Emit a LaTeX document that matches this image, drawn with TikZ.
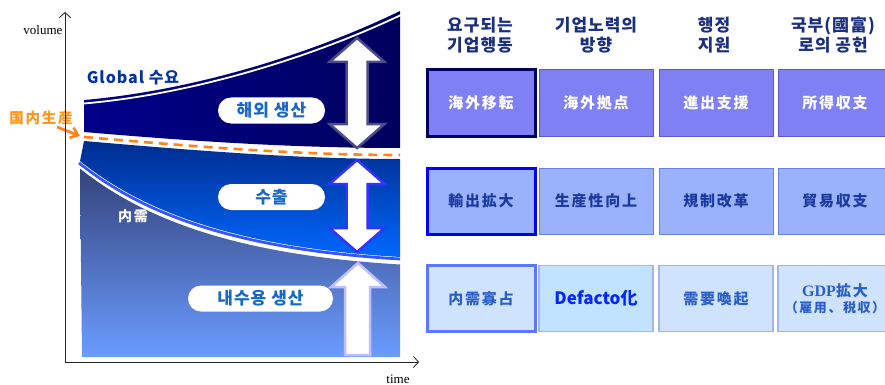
\documentclass[tikz,border=0pt]{standalone}
\usepackage{fontspec}
\setmainfont{Liberation Serif}
\newfontfamily\kr{Noto Sans CJK KR}[LetterSpace=6]
\newfontfamily\jp{Noto Sans CJK JP}[LetterSpace=12]
\newfontfamily\jpn{Noto Sans CJK JP}
\usetikzlibrary{arrows.meta}
\definecolor{navyA}{HTML}{00008A}
\definecolor{navyB}{HTML}{00005E}
\definecolor{midA}{HTML}{002C8E}
\definecolor{midB}{HTML}{0068FF}
\definecolor{lowA}{HTML}{34437C}
\definecolor{lowB}{HTML}{6B9CFF}
\definecolor{pilltext}{HTML}{1868C8}
\definecolor{hdr}{HTML}{1A2F80}
\definecolor{orng}{HTML}{FF8420}
\definecolor{rowA}{HTML}{8080F5}
\definecolor{rowB}{HTML}{99B2FB}
\definecolor{rowC}{HTML}{CFE3FF}
\definecolor{rowCc}{HTML}{C2E3FF}
\definecolor{txtB}{HTML}{1B3AA0}
\definecolor{txtC}{HTML}{2A5FC8}
\definecolor{bordA}{HTML}{5A5ACC}
\definecolor{bordB}{HTML}{6A80DC}
\definecolor{bordC}{HTML}{A4B6E2}
\definecolor{nline}{HTML}{3355FF}
\tikzset{
  pill/.style={rounded corners=13pt, fill=white, minimum height=26pt, inner sep=0pt,
    text=pilltext, font=\kr\bfseries\fontsize{17}{20}\selectfont},
  hdrtext/.style={align=center, text=hdr, font=\kr\bfseries\fontsize{17}{20}\selectfont},
  cellbase/.style={rectangle, minimum width=114pt, minimum height=66pt, inner sep=0pt, align=center},
  cellA/.style={cellbase, fill=rowA, draw=bordA, line width=1pt, text=white,
    font=\jp\bfseries\fontsize{15}{18}\selectfont},
  cellB/.style={cellbase, fill=rowB, draw=bordB, line width=1pt, text=txtB,
    font=\jp\bfseries\fontsize{15}{18}\selectfont},
  cellC/.style={cellbase, fill=rowC, draw=bordC, line width=1.4pt, text=txtC,
    font=\jp\bfseries\fontsize{15}{18}\selectfont},
  firstcol/.style={minimum width=108pt, line width=3pt},
  arrowshape/.style={fill=white, line width=2.5pt, line join=miter},
  axisline/.style={line width=0.8pt, draw=black!85, -{Straight Barb[length=5pt,width=11pt]}},
}
\begin{document}
\begin{tikzpicture}[x=1pt,y=-1pt]
\useasboundingbox (0,0) rectangle (885,385);
\clip (0,0) rectangle (885,385);
\fill[white] (0,0) rectangle (885,385);

% ---- bands ----
\shade[top color=lowA, bottom color=lowB]
  (80,168.5) .. controls (140,216.5) and (230,254.5) .. (400,264.5) -- (400,357) -- (82,357) -- cycle;
\shade[top color=midA, bottom color=midB]
  (84,141) .. controls (200,151) and (300,159) .. (400,159) -- (400,257)
  .. controls (230,247) and (140,209) .. (80,161) -- cycle;
\shade[left color=navyA, right color=navyB]
  (84,100) .. controls (200,90) and (320,50) .. (400,11) -- (400,148)
  .. controls (300,148) and (200,142) .. (84,132) -- cycle;

% lines on curves
\draw[white, line width=1.8pt] (84,103.5) .. controls (200,93.5) and (320,53.5) .. (401,15);
\draw[orng, line width=2.6pt, dash pattern=on 9pt off 6pt] (84,137) .. controls (200,147) and (300,155) .. (400,155);
\draw[nline, line width=2.8pt] (79,163) .. controls (139,211) and (229,249) .. (400,259);
\draw[white, line width=1.8pt] (79,166.2) .. controls (139,214.2) and (229,252.2) .. (400,262.2);

% ---- arrows ----
\draw[arrowshape, draw=blue!35!black!70!white]
  (357,38) -- (384.5,62) -- (367.5,62) -- (367.5,124) -- (384.5,124) -- (357,148)
  -- (329.5,124) -- (346.5,124) -- (346.5,62) -- (329.5,62) -- cycle;
\draw[arrowshape, draw=blue!80!white]
  (357,160) -- (384.5,184) -- (367.5,184) -- (367.5,228) -- (384.5,228) -- (357,252)
  -- (329.5,228) -- (346.5,228) -- (346.5,184) -- (329.5,184) -- cycle;
\draw[arrowshape, draw=blue!25!white]
  (358,263) -- (385,287) -- (370,287) -- (370,355) -- (345,355) -- (345,287) -- (331,287) -- cycle;

% ---- pills ----
\node[pill, minimum width=107pt] (p1) at (271.5,110.5) {해외 생산};
\node[pill, minimum width=107pt] (p2) at (271.5,197) {수출};
\node[pill, minimum width=145pt] (p3) at (260.5,298.5) {내수용 생산};

% ---- chart labels ----
\node[text=blue!55!black!80!cyan, font=\kr\bfseries\fontsize{16}{18}\selectfont] (glob) at (133,78) {Global 수요};
\node[text=white, font=\jp\bfseries\fontsize{14}{16}\selectfont] (nj) at (133,216) {内需};
\node[text=orng!85!yellow, font=\jp\bfseries\fontsize{14.5}{16}\selectfont] (kn) at (41,118) {国内生産};
\coordinate (knTail) at (57,127);
\coordinate (knTip) at (80,136);
\draw[orng, line width=2.8pt, -{Straight Barb[length=7pt,width=11pt,line width=2.6pt]}] (knTail) -- (knTip);

% ---- axes ----
\coordinate (O) at (65,362);
\coordinate (Ytip) at (65,12);
\coordinate (Xtip) at (419,362);
\draw[axisline] (O) -- (Ytip);
\draw[axisline] (O) -- (Xtip);
\node[font=\fontsize{13}{15}\selectfont, anchor=base east] (vol) at (66,35) {volume};
\node[font=\fontsize{13}{15}\selectfont, anchor=base] (tim) at (398,383) {time};

% ---- headers ----
\node[hdrtext] (h1) at (480,35) {요구되는\\기업행동};
\node[hdrtext] (h2) at (596,35) {기업노력의\\방향};
\node[hdrtext] (h3) at (714,35) {행정\\지원};
\node[hdrtext] (h4) at (833,35) {국부(國富)\\로의 공헌};

% ---- table ----
\node[cellA, firstcol, draw=navyB] (a1) at (481,103) {海外移転};
\node[cellA] (a2) at (596,103) {海外拠点};
\node[cellA] (a3) at (716,103) {進出支援};
\node[cellA] (a4) at (835,103) {所得収支};

\node[cellB, firstcol, draw=blue] (b1) at (481,201) {輸出拡大};
\node[cellB] (b2) at (596,201) {生産性向上};
\node[cellB] (b3) at (716,201) {規制改革};
\node[cellB] (b4) at (835,201) {貿易収支};

\node[cellC, firstcol, draw=nline!80!white] (c1) at (481,298.5) {内需寡占};
\node[cellC, fill=rowCc, text=blue!85!cyan, font=\jpn\bfseries\fontsize{17}{20}\selectfont] (c2) at (596,298.5) {Defacto化};
\node[cellC] (c3) at (716,298.5) {需要喚起};
\node[cellC, font=\jp\bfseries\fontsize{15}{17}\selectfont] (c4) at (835,298.5)
  {{\rmfamily\bfseries\fontsize{16}{18}\selectfont GDP}拡大\\[-1pt]{\fontsize{13}{15}\selectfont （雇用、税収）}};
\end{tikzpicture}
\end{document}
